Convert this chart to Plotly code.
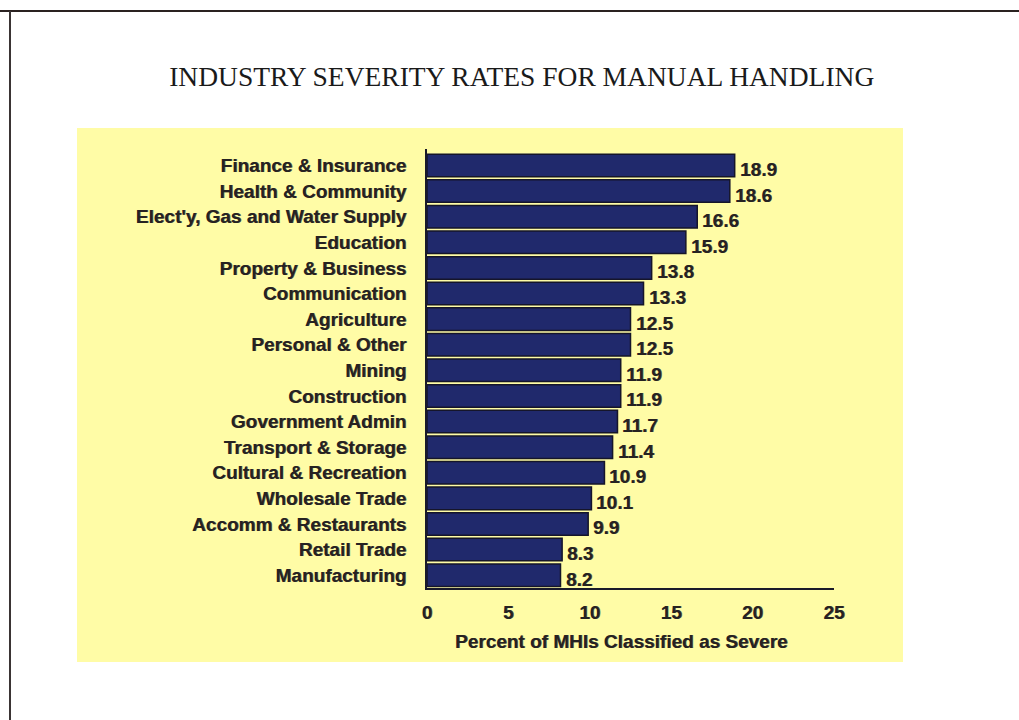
import plotly.graph_objects as go

# Industry severity rates (% of manual handling injuries classified as severe)
industries = [
    "Finance & Insurance", "Health & Community", "Elect'y, Gas and Water Supply",
    "Education", "Property & Business", "Communication", "Agriculture",
    "Personal & Other", "Mining", "Construction", "Government Admin",
    "Transport & Storage", "Cultural & Recreation", "Wholesale Trade",
    "Accomm & Restaurants", "Retail Trade", "Manufacturing",
]
severity = [18.9, 18.6, 16.6, 15.9, 13.8, 13.3, 12.5, 12.5, 11.9, 11.9,
            11.7, 11.4, 10.9, 10.1, 9.9, 8.3, 8.2]
x_ticks = [0, 5, 10, 15, 20, 25]

W, H = 1019, 720
L, R, T, B = 427, 834, 149, 588  # plot area in pixels

def px(x):
    return (x - L) / (R - L)

def py(y):
    return (B - y) / (B - T)

txt = "#262222"
bold = dict(family="Liberation Sans, Arial", size=19, color=txt, weight="bold",
            shadow="0.7px 0 0 rgba(38,34,34,0.7)")

fig = go.Figure(go.Bar(
    x=severity, y=industries, orientation="h",
    marker=dict(color="#20296c", line=dict(color="#15152a", width=1.5)),
    width=0.88, hoverinfo="x+y",
))

# value labels just right of each bar end
for name, v in zip(industries, severity):
    fig.add_annotation(x=v, y=name, text=f"{v:.1f}", showarrow=False,
                       xanchor="left", yanchor="middle", xshift=3, yshift=-4,
                       font=bold)

# axis title, centred slightly left of the plot area
fig.add_annotation(xref="paper", yref="paper", x=px(621), y=py(641),
                   text="Percent of MHIs Classified as Severe", showarrow=False,
                   xanchor="center", yanchor="middle", font=bold)

shapes = [
    # pale yellow chart panel
    dict(type="rect", xref="paper", yref="paper", layer="below",
         x0=px(77), x1=px(903), y0=py(662), y1=py(128),
         fillcolor="#fffca6", line=dict(width=0)),
    # page frame
    dict(type="line", xref="paper", yref="paper",
         x0=px(0), x1=px(W), y0=py(11), y1=py(11),
         line=dict(color="#2a2220", width=2)),
    dict(type="line", xref="paper", yref="paper",
         x0=px(10), x1=px(10), y0=py(11), y1=py(H),
         line=dict(color="#3a3434", width=2)),
]

fig.update_layout(
    width=W, height=H,
    margin=dict(l=L, r=W - R, t=T, b=H - B),
    paper_bgcolor="white", plot_bgcolor="rgba(0,0,0,0)",
    showlegend=False, shapes=shapes,
    title=dict(text="INDUSTRY SEVERITY RATES FOR MANUAL HANDLING",
               font=dict(family="Liberation Serif, Times New Roman", size=27.5, color="#1a1a1a"),
               x=0.512, xanchor="center", y=1 - 76 / H, yanchor="middle"),
    bargap=0.12,
    xaxis=dict(range=[0, 25], tickvals=x_ticks, showgrid=False, zeroline=False,
               showline=True, linecolor="#1a1a2a", linewidth=2, ticks="",
               tickfont=bold, ticklabelstandoff=6),
    yaxis=dict(autorange="reversed", showgrid=False, zeroline=False,
               showline=True, linecolor="#1a1a2a", linewidth=1.5, ticks="",
               tickfont=bold, ticklabelstandoff=15),
)

fig.write_html("out.html")
